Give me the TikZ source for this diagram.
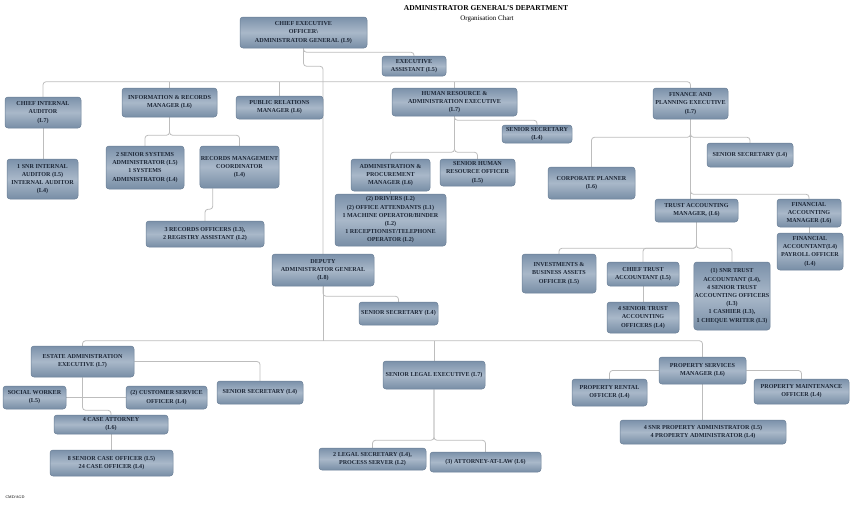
\documentclass[tikz,border=0pt]{standalone}
\usepackage{fontspec}
\setmainfont{Liberation Serif}
\usepackage{xcolor}
\usetikzlibrary{calc,positioning,backgrounds}
\definecolor{boxtop}{HTML}{7B91AA}
\definecolor{boxmid}{HTML}{A9B8C9}
\definecolor{boxbot}{HTML}{788EA6}
\definecolor{boxline}{HTML}{6A7F96}
\definecolor{boxtext}{HTML}{1C2636}
\definecolor{linkgray}{HTML}{BDBDBD}
\newcommand{\boxfont}{\fontsize{6.1}{8.2}\selectfont\bfseries}
\tikzset{
	post/.style={
			rectangle, rounded corners=3pt, draw=boxline, line width=0.5pt,
			top color=boxtop, bottom color=boxbot, middle color=boxmid,
			align=center, inner sep=0.8pt, font=\boxfont, text=boxtext
		},
	sz/.style 2 args={minimum width=#1pt, minimum height=#2pt},
	link/.style={draw=linkgray, line width=0.8pt, rounded corners=3pt}
}

\begin{document}
\begin{tikzpicture}[x=1pt,y=-1pt]
			\useasboundingbox (0,0) rectangle (850,504);
			\coordinate (bus) at (0,82);
			\coordinate (bustwo) at (0,341);
			\node (title) at (486,8) {\fontsize{7.5}{9}\selectfont\bfseries ADMINISTRATOR GENERAL'S DEPARTMENT};
			\node (subtitle) at (487,19) {\fontsize{7}{8}\selectfont Organisation Chart};
			\node[anchor=west] (footer) at (2,497) {\fontsize{4}{5}\selectfont CMD/AGD};
			% top level
			\node[post, sz={127}{31}] (ceo) at (303.5,32.5) {CHIEF EXECUTIVE\\ OFFICER\textbackslash\\ ADMINISTRATOR GENERAL (L9)};
			\node[post, sz={64}{20}] (ea) at (414,66) {EXECUTIVE\\ ASSISTANT (L5)};
			\node[post, sz={76}{31}] (cia) at (43,112.5) {CHIEF INTERNAL\\ AUDITOR\\ (L7)};
			\node[post, sz={95}{29}] (irm) at (169.5,102.5) {INFORMATION \& RECORDS\\ MANAGER (L6)};
			\node[post, sz={87}{23}] (prm) at (279.5,107.5) {PUBLIC RELATIONS\\ MANAGER (L6)};
			\node[post, sz={125}{28}] (hra) at (454.5,102) {HUMAN RESOURCE \&\\ ADMINISTRATION EXECUTIVE\\ (L7)};
			\node[post, sz={70}{18}] (hsec) at (537,134) {SENIOR SECRETARY\\ (L4)};
			\node[post, sz={75}{31}] (fpe) at (690.5,103.5) {FINANCE AND\\ PLANNING EXECUTIVE\\ (L7)};
			% second row
			\node[post, sz={71}{40}] (sia) at (42.5,179) {1 SNR INTERNAL\\ AUDITOR (L5)\\ INTERNAL AUDITOR\\ (L4)};
			\node[post, sz={78}{43}] (ssa) at (145,167.5) {2 SENIOR SYSTEMS\\ ADMINISTRATOR (L5)\\ 1 SYSTEMS\\ ADMINISTRATOR (L4)};
			\node[post, sz={79}{42}] (rmc) at (239.5,167) {RECORDS MANAGEMENT\\ COORDINATOR\\ (L4)};
			\node[post, sz={118}{26}] (rof) at (205,234) {3 RECORDS OFFICERS (L3),\\ 2 REGISTRY ASSISTANT (L2)};
			\node[post, sz={79}{32}] (apm) at (390.5,175) {ADMINISTRATION \&\\ PROCUREMENT\\ MANAGER (L6)};
			\node[post, sz={75}{27}] (hro) at (477.5,172.5) {SENIOR HUMAN\\ RESOURCE OFFICER\\ (L5)};
			\node[post, sz={111}{52}] (drv) at (390.5,220) {(2) DRIVERS (L2)\\ (2) OFFICE ATTENDANTS (L1)\\ 1 MACHINE OPERATOR/BINDER\\ (L2)\\ 1 RECEPTIONIST/TELEPHONE\\ OPERATOR (L2)};
			\node[post, sz={86}{24}] (fsec) at (750,155) {SENIOR SECRETARY (L4)};
			\node[post, sz={87}{32}] (cpl) at (591.5,183) {CORPORATE PLANNER\\ (L6)};
			\node[post, sz={83}{23}] (tam) at (696.5,210.5) {TRUST ACCOUNTING\\ MANAGER, (L6)};
			\node[post, sz={64}{28}] (fam) at (809,213) {FINANCIAL\\ ACCOUNTING\\ MANAGER (L6)};
			\node[post, sz={66}{37}] (fac) at (810,251.5) {FINANCIAL\\ ACCOUNTANT(L4)\\ PAYROLL OFFICER\\ (L4)};
			\node[post, sz={74}{39}] (iba) at (559,273.5) {INVESTMENTS \&\\ BUSINESS ASSETS\\ OFFICER (L5)};
			\node[post, sz={72}{24}] (cta) at (643,274) {CHIEF TRUST\\ ACCOUNTANT (L5)};
			\node[post, sz={72}{31}] (sto) at (643,317.5) {4 SENIOR TRUST\\ ACCOUNTING\\ OFFICERS (L4)};
			\node[post, sz={76}{68}] (sta) at (732,296) {(1) SNR TRUST\\ ACCOUNTANT (L4),\\ 4 SENIOR TRUST\\ ACCOUNTING OFFICERS\\ (L3)\\ 1 CASHIER (L3),\\ 1 CHEQUE WRITER (L3)};
			% deputy and below
			\node[post, sz={102}{32}] (dag) at (323,270) {DEPUTY\\ ADMINISTRATOR GENERAL\\ (L8)};
			\node[post, sz={79}{23}] (dsec) at (398.5,313.5) {SENIOR SECRETARY (L4)};
			\node[post, sz={103}{31}] (eae) at (82.5,361.5) {ESTATE ADMINISTRATION\\ EXECUTIVE (L7)};
			\node[post, sz={63}{23}] (swk) at (34.5,397.5) {SOCIAL WORKER\\ (L5)};
			\node[post, sz={81}{23}] (cso) at (166.5,397.5) {(2) CUSTOMER SERVICE\\ OFFICER (L4)};
			\node[post, sz={86}{23}] (esec) at (260,392.5) {SENIOR SECRETARY (L4)};
			\node[post, sz={114}{19}] (cat) at (111,424.5) {4 CASE ATTORNEY\\ (L6)};
			\node[post, sz={123}{26}] (sco) at (111.5,463) {8 SENIOR CASE OFFICER (L5)\\ 24 CASE OFFICER (L4)};
			\node[post, sz={102}{28}] (sle) at (434,375) {SENIOR LEGAL EXECUTIVE (L7)};
			\node[post, sz={107}{22}] (lsec) at (372.5,459) {2 LEGAL SECRETARY (L4),\\ PROCESS SERVER (L2)};
			\node[post, sz={111}{20}] (aal) at (485.5,462) {(3) ATTORNEY-AT-LAW (L6)};
			\node[post, sz={87}{27}] (psm) at (702.5,370.5) {PROPERTY SERVICES\\ MANAGER (L6)};
			\node[post, sz={75}{27}] (pro) at (609.5,392.5) {PROPERTY RENTAL\\ OFFICER (L4)};
			\node[post, sz={95}{25}] (pmo) at (801.5,391.5) {PROPERTY MAINTENANCE\\ OFFICER (L4)};
			\node[post, sz={166}{24}] (spa) at (703,432) {4 SNR PROPERTY ADMINISTRATOR (L5)\\ 4 PROPERTY ADMINISTRATOR (L4)};
			% connectors
			\begin{scope}[on background layer]
			\draw[link] (ceo.south) -- ++(0,4) -| (ea.north);
			\draw[link] (ceo.south) -- ++(0,18) -| (dag.north);
			\draw[link] (cia.north) -- ++(0,-15) -| (fpe.north);
			\draw[link] (irm.north) -- (irm.north |- bus);
			\draw[link] (prm.north) -- (prm.north |- bus);
			\draw[link] (hra.north) -- (hra.north |- bus);
			\draw[link] (cia.south) -- (cia.south |- sia.north);
			\draw[link] (irm.south) -- ++(0,18) -| (ssa.north);
			\draw[link] (irm.south) -- ++(0,18) -| (rmc.north);
			\draw[link] ($(rmc.south west)+(13,0)$) -- ++(0,21) -| (rof.north);
			\draw[link] (hra.south) -- ++(0,4) -| (hsec.north);
			\draw[link] (hra.south) -- ++(0,36) -| (apm.north);
			\draw[link] (hra.south) -- ++(0,36) -| (hro.north);
			\draw[link] (apm.south) -- (apm.south |- drv.north);
			\draw[link] (fpe.south) -- ++(0,18) -| (cpl.north);
			\draw[link] (fpe.south) -- ++(0,18) -| (fsec.north);
			\draw[link] (fpe.south) -- (fpe.south |- tam.north);
			\draw[link] (fpe.south) -- ++(0,75) -| (fam.north);
			\draw[link] (fam.south) -- (fam.south |- fac.north);
			\draw[link] (tam.south) -- ++(0,26) -| (iba.north);
			\draw[link] (tam.south) -- ++(0,26) -| (cta.north);
			\draw[link] (tam.south) -- ++(0,26) -| (sta.north);
			\draw[link] (cta.south) -- (sto.north);
			\draw[link] (dag.south) -- ++(0,10) -| (dsec.north);
			\draw[link] (dag.south) -- (dag.south |- bustwo);
			\draw[link] (eae.north) -- ++(0,-5) -| (psm.north);
			\draw[link] (sle.north) -- (sle.north |- bustwo);
			\draw[link] (eae.east) -| (esec.north);
			\draw[link] (swk.east) -- (cso.west);
			\draw[link] (eae.south) -- ++(0,33) -| (cat.north);
			\draw[link] (cat.south) -- (cat.south |- sco.north);
			\draw[link] (sle.south) -- ++(0,51) -| (lsec.north);
			\draw[link] (sle.south) -- ++(0,51) -| (aal.north);
			\draw[link] (psm.west) -| (pro.north);
			\draw[link] (psm.east) -| (pmo.north);
			\draw[link] (psm.south) -- (psm.south |- spa.north);
			\end{scope}
		\end{tikzpicture}
\end{document}
